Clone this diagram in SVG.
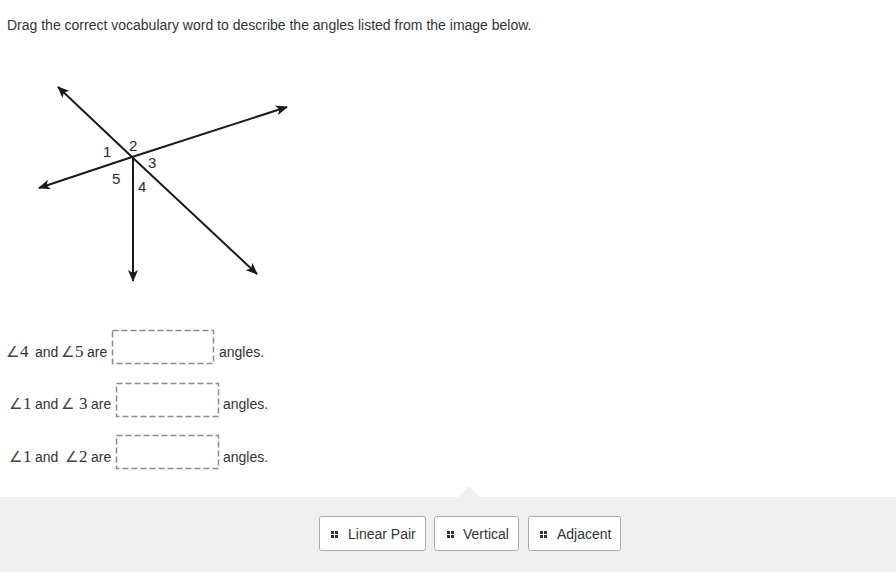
<svg xmlns="http://www.w3.org/2000/svg" width="896" height="572" viewBox="0 0 896 572">
<defs>
<marker id="ah" viewBox="0 0 12 10" refX="11" refY="5" markerWidth="12" markerHeight="10" markerUnits="userSpaceOnUse" orient="auto">
<path d="M0,0 L12,5 L0,10 L3,5 Z" fill="#1a1a1a"/>
</marker>
</defs>
<style>
.t{font-family:"Liberation Sans",Arial,sans-serif;font-size:14px;fill:#333}
.m{font-family:"Liberation Serif","Times New Roman",serif;font-size:17px;fill:#333}
.a{font-family:"DejaVu Sans",sans-serif;font-size:15px;fill:#444}
.lbl{font-family:"Liberation Sans",Arial,sans-serif;font-size:15px;fill:#2a2a2a}
.ln{stroke:#1a1a1a;stroke-width:2;fill:none}
.drop{fill:#fff;stroke:#8a8a8a;stroke-width:1.5;stroke-dasharray:6,3}
.btn{fill:#fff;stroke:#aaa;stroke-width:1}
.bt{font-family:"Liberation Sans",Arial,sans-serif;font-size:14px;fill:#333}
.dot{fill:#333}
</style>
<rect width="896" height="572" fill="#fff"/>
<text class="t" x="7" y="30">Drag the correct vocabulary word to describe the angles listed from the image below.</text>
<g id="figure">
<g id="connectors">
<line class="ln" x1="132" y1="157" x2="58" y2="87" marker-end="url(#ah)"/>
<line class="ln" x1="132" y1="157" x2="257" y2="274" marker-end="url(#ah)"/>
<line class="ln" x1="132" y1="157" x2="287" y2="107" marker-end="url(#ah)"/>
<line class="ln" x1="132" y1="157" x2="39" y2="188" marker-end="url(#ah)"/>
<line class="ln" x1="133" y1="157" x2="133" y2="281" marker-end="url(#ah)" stroke="#444"/>
</g>
<text class="lbl" x="103" y="157">1</text>
<text class="lbl" x="129" y="151">2</text>
<text class="lbl" x="148" y="168">3</text>
<text class="lbl" x="138" y="192">4</text>
<text class="lbl" x="112" y="184">5</text>
</g>
<g id="row1">
<text class="a" x="6" y="357">∠</text><text class="m" x="20" y="357">4</text>
<text class="t" x="35" y="357">and</text>
<text class="a" x="61" y="357">∠</text><text class="m" x="75" y="357">5</text>
<text class="t" x="87" y="357">are</text>
<rect class="drop" x="112.5" y="330.5" width="101" height="33"/>
<text class="t" x="219" y="357">angles.</text>
</g>
<g id="row2">
<text class="a" x="9" y="409">∠</text><text class="m" x="23" y="409">1</text>
<text class="t" x="35" y="409">and</text>
<text class="a" x="61" y="409">∠</text><text class="m" x="79" y="409">3</text>
<text class="t" x="91" y="409">are</text>
<rect class="drop" x="116.5" y="383.5" width="102" height="33"/>
<text class="t" x="223" y="409">angles.</text>
</g>
<g id="row3">
<text class="a" x="9" y="462">∠</text><text class="m" x="23" y="462">1</text>
<text class="t" x="35" y="462">and</text>
<text class="a" x="65" y="462">∠</text><text class="m" x="79" y="462">2</text>
<text class="t" x="91" y="462">are</text>
<rect class="drop" x="116.5" y="435.5" width="102" height="33"/>
<text class="t" x="223" y="462">angles.</text>
</g>
<g id="tray">
<rect x="0" y="497" width="896" height="75" fill="#efefef"/>
<polygon points="458,497 469,486 481,497" fill="#efefef"/>
</g>
<g id="btn-linear">
<rect class="btn" x="319.5" y="516.5" width="106" height="34" rx="2"/>
<rect class="dot" x="331" y="531" width="3" height="3"/><rect class="dot" x="335" y="531" width="3" height="3"/>
<rect class="dot" x="331" y="535" width="3" height="3"/><rect class="dot" x="335" y="535" width="3" height="3"/>
<text class="bt" x="348" y="539">Linear Pair</text>
</g>
<g id="btn-vertical">
<rect class="btn" x="434.5" y="516.5" width="84" height="34" rx="2"/>
<rect class="dot" x="447" y="531" width="3" height="3"/><rect class="dot" x="451" y="531" width="3" height="3"/>
<rect class="dot" x="447" y="535" width="3" height="3"/><rect class="dot" x="451" y="535" width="3" height="3"/>
<text class="bt" x="463" y="539">Vertical</text>
</g>
<g id="btn-adjacent">
<rect class="btn" x="528.5" y="516.5" width="92" height="34" rx="2"/>
<rect class="dot" x="540" y="531" width="3" height="3"/><rect class="dot" x="544" y="531" width="3" height="3"/>
<rect class="dot" x="540" y="535" width="3" height="3"/><rect class="dot" x="544" y="535" width="3" height="3"/>
<text class="bt" x="557" y="539">Adjacent</text>
</g>
</svg>
